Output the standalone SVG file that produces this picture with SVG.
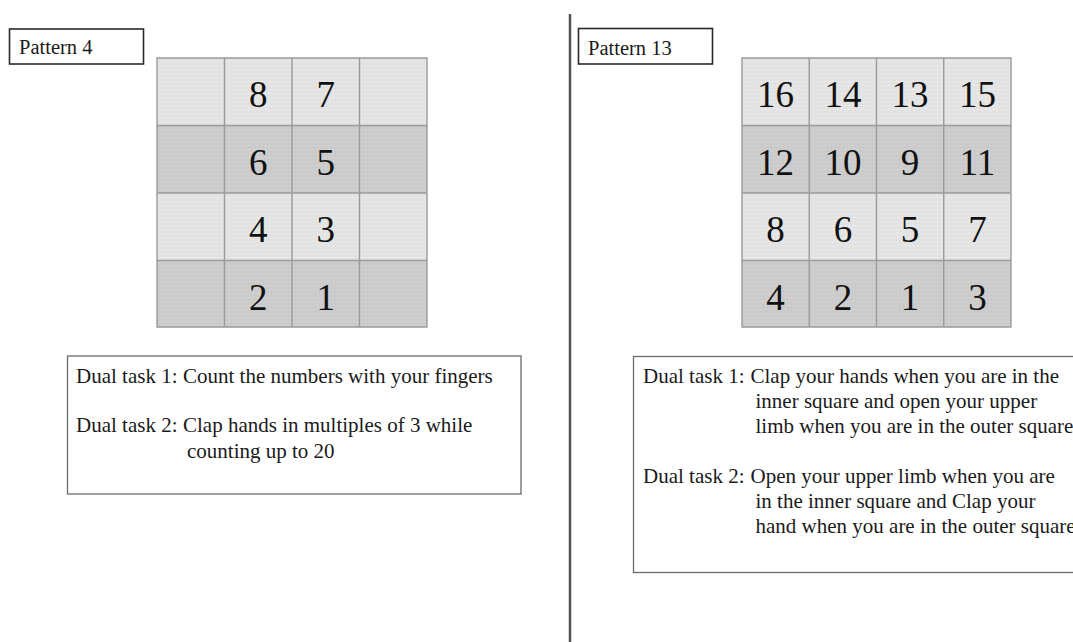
<svg xmlns="http://www.w3.org/2000/svg" width="1073" height="642" viewBox="0 0 1073 642">
  <defs>
    <!-- fine stippled fills for the grid cells -->
    <pattern id="dotsLight" width="4" height="4" patternUnits="userSpaceOnUse">
      <rect width="4" height="4" fill="#e3e3e3"/>
      <rect x="1" y="1" width="1" height="1" fill="#f4f4f4"/>
    </pattern>
    <pattern id="dotsDark" width="4" height="4" patternUnits="userSpaceOnUse">
      <rect width="4" height="4" fill="#cbcbcb"/>
      <rect x="1" y="1" width="1" height="1" fill="#dedede"/>
    </pattern>
    <style>
      .light { fill: url(#dotsLight); }
      .dark { fill: url(#dotsDark); }
      .grid { fill: none; stroke: #9a9a9a; stroke-width: 1.4; }
      .num { font-family: "Liberation Serif", "Times New Roman", serif; font-size: 37px; fill: #111; text-anchor: middle; }
      .label { font-family: "Liberation Serif", "Times New Roman", serif; font-size: 20.5px; fill: #1a1a1a; }
      .task { font-family: "Liberation Serif", "Times New Roman", serif; font-size: 21px; fill: #1a1a1a; }
      .tagbox { fill: #fff; stroke: #2a2a2a; stroke-width: 1.6; }
      .notebox { fill: #fff; stroke: #6a6a6a; stroke-width: 1.3; }
    </style>
  </defs>

  <rect width="1073" height="642" fill="#fff"/>

  <!-- dividing rule between the two patterns -->
  <g id="divider">
    <line x1="570" y1="14" x2="570" y2="642" stroke="#555" stroke-width="2.5"/>
  </g>

  <!-- Pattern 4 (left) -->
  <g id="pattern4-label">
    <rect class="tagbox" x="9.5" y="29" width="134" height="35"/>
    <text class="label" x="19" y="54">Pattern 4</text>
  </g>

  <g id="pattern4-grid">
    <rect class="light" x="157" y="58" width="270" height="67.5"/>
    <rect class="dark" x="157" y="125.5" width="270" height="67.5"/>
    <rect class="light" x="157" y="193" width="270" height="67.5"/>
    <rect class="dark" x="157" y="260.5" width="270" height="66.5"/>
    <path class="grid" d="M157 58H427V327H157Z M224.5 58V327 M292 58V327 M359.5 58V327 M157 125.5H427 M157 193H427 M157 260.5H427"/>
    <text class="num" x="258.25" y="107">8</text>
    <text class="num" x="325.75" y="107">7</text>
    <text class="num" x="258.25" y="174.5">6</text>
    <text class="num" x="325.75" y="174.5">5</text>
    <text class="num" x="258.25" y="242">4</text>
    <text class="num" x="325.75" y="242">3</text>
    <text class="num" x="258.25" y="309.5">2</text>
    <text class="num" x="325.75" y="309.5">1</text>
  </g>

  <g id="pattern4-tasks">
    <rect class="notebox" x="67.5" y="356" width="453.5" height="138"/>
    <text class="task" x="76" y="383">Dual task 1:</text>
    <text class="task" x="183" y="383">Count the numbers with your fingers</text>
    <text class="task" x="76" y="431.5">Dual task 2:</text>
    <text class="task" x="183" y="431.5">Clap hands in multiples of 3 while</text>
    <text class="task" x="187" y="458">counting up to 20</text>
  </g>

  <!-- Pattern 13 (right) -->
  <g id="pattern13-label">
    <rect class="tagbox" x="578.5" y="28.5" width="134" height="35.5"/>
    <text class="label" x="588" y="55">Pattern 13</text>
  </g>

  <g id="pattern13-grid">
    <rect class="light" x="742" y="58" width="269" height="67.5"/>
    <rect class="dark" x="742" y="125.5" width="269" height="67.5"/>
    <rect class="light" x="742" y="193" width="269" height="67.5"/>
    <rect class="dark" x="742" y="260.5" width="269" height="66.5"/>
    <path class="grid" d="M742 58H1011V327H742Z M809.25 58V327 M876.5 58V327 M943.75 58V327 M742 125.5H1011 M742 193H1011 M742 260.5H1011"/>
    <text class="num" x="775.6" y="107">16</text>
    <text class="num" x="842.9" y="107">14</text>
    <text class="num" x="910.1" y="107">13</text>
    <text class="num" x="977.4" y="107">15</text>
    <text class="num" x="775.6" y="174.5">12</text>
    <text class="num" x="842.9" y="174.5">10</text>
    <text class="num" x="910.1" y="174.5">9</text>
    <text class="num" x="977.4" y="174.5">11</text>
    <text class="num" x="775.6" y="242">8</text>
    <text class="num" x="842.9" y="242">6</text>
    <text class="num" x="910.1" y="242">5</text>
    <text class="num" x="977.4" y="242">7</text>
    <text class="num" x="775.6" y="309.5">4</text>
    <text class="num" x="842.9" y="309.5">2</text>
    <text class="num" x="910.1" y="309.5">1</text>
    <text class="num" x="977.4" y="309.5">3</text>
  </g>

  <g id="pattern13-tasks">
    <rect class="notebox" x="633.5" y="356.5" width="460" height="216"/>
    <text class="task" x="643" y="382.5">Dual task 1:</text>
    <text class="task" x="750.5" y="382.5">Clap your hands when you are in the</text>
    <text class="task" x="755.5" y="407.5">inner square and open your upper</text>
    <text class="task" x="755.5" y="432.5">limb when you are in the outer square</text>
    <text class="task" x="643" y="483">Dual task 2:</text>
    <text class="task" x="750.5" y="483">Open your upper limb when you are</text>
    <text class="task" x="755.5" y="508">in the inner square and Clap your</text>
    <text class="task" x="755.5" y="533">hand when you are in the outer square</text>
  </g>
</svg>
